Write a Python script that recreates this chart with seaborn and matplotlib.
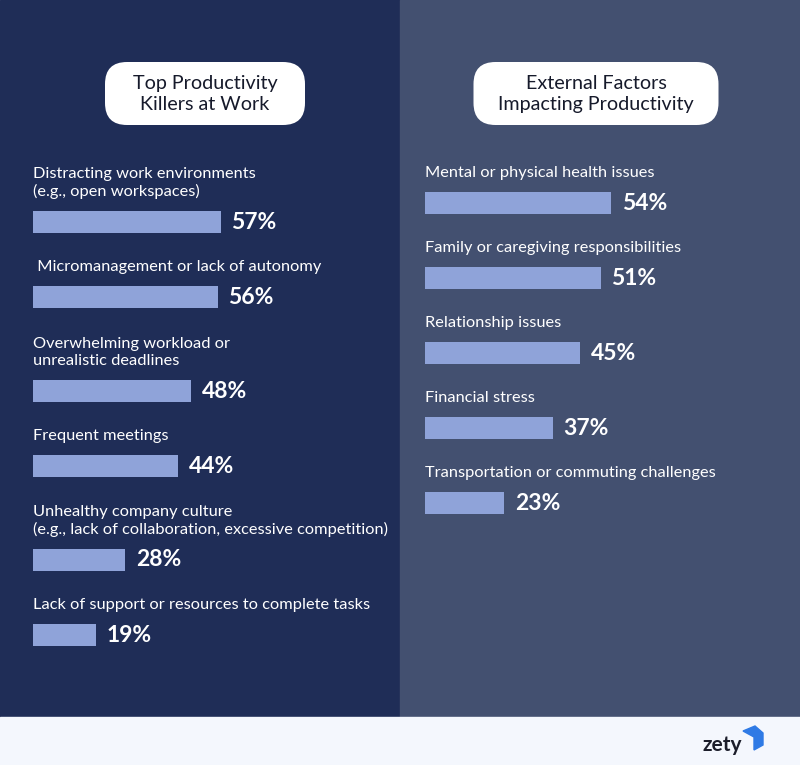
import matplotlib
matplotlib.use("Agg")
import matplotlib.pyplot as plt
import seaborn as sns
import pandas as pd
from matplotlib.patches import FancyBboxPatch, Rectangle, Polygon

# data
left_title = "Top Productivity\nKillers at Work"
left_labels = [
    "Distracting work environments\n(e.g., open workspaces)",
    " Micromanagement or lack of autonomy",
    "Overwhelming workload or\nunrealistic deadlines",
    "Frequent meetings",
    "Unhealthy company culture\n(e.g., lack of collaboration, excessive competition)",
    "Lack of support or resources to complete tasks",
]
left_values = [57, 56, 48, 44, 28, 19]

right_title = "External Factors\nImpacting Productivity"
right_labels = [
    "Mental or physical health issues",
    "Family or caregiving responsibilities",
    "Relationship issues",
    "Financial stress",
    "Transportation or commuting challenges",
]
right_values = [54, 51, 45, 37, 23]

W, H = 800, 765
LEFT_BG = "#1f2d57"
RIGHT_BG = "#435070"
BAR = "#8fa3d9"
FOOT = "#f4f7fd"
FONT = ["Lato", "DejaVu Sans"]

sns.set_style("white")
plt.rcParams["font.family"] = FONT

fig = plt.figure(figsize=(W / 100, H / 100), dpi=100)

# background layer in pixel coordinates
bg = fig.add_axes([0, 0, 1, 1])
bg.set_xlim(0, W)
bg.set_ylim(H, 0)
bg.axis("off")
bg.add_patch(Rectangle((0, 0), 400, 717, color=LEFT_BG))
bg.add_patch(Rectangle((400, 0), 400, 717, color=RIGHT_BG))
bg.add_patch(Rectangle((0, 717), 800, 48, color=FOOT))

for cx, w, title in [(205, 200, left_title), (596, 245, right_title)]:
    bg.add_patch(FancyBboxPatch((cx - w / 2, 62), w, 63,
                                boxstyle="round,pad=0,rounding_size=22",
                                fc="white", ec="none"))
    bg.text(cx, 94, title, ha="center", va="center", fontsize=14.2,
            color="#161a2b", linespacing=1.35)

# logo
bg.text(722, 745, "zety", ha="center", va="center", fontsize=15,
        fontweight="bold", color="#1b1d2a")
bg.add_patch(Polygon([[743, 731], [755, 726], [763, 733], [763, 745], [754, 750], [754, 737]],
                     closed=True, color="#2f7ae5"))


def bar_positions(labels):
    # each row: label lines (19 px each) then the bar
    pos = []
    top = 171
    for lab in labels:
        n = lab.count("\n") + 1
        c = top + 19 * (n - 1) + 32
        pos.append(c)
        top = c + 43
    return pos


def panel(x0, px_per_pct, labels, values):
    # axes covering a panel: x in percent, y in pixels
    ax = fig.add_axes([x0 / W, 0, 400 / W, 1])
    ax.set_xlim(-25 / px_per_pct, 375 / px_per_pct)
    ax.set_ylim(H, 0)
    ys = bar_positions(labels)
    df = pd.DataFrame({"value": values, "y": ys})
    step = min(b - a for a, b in zip(ys[:-1], ys[1:]))
    sns.barplot(data=df, x="value", y="y", orient="h", native_scale=True,
                width=22 / step, color=BAR, saturation=1, ax=ax, linewidth=0)
    for lab, v, y in zip(labels, values, ys):
        ax.text(0, y - 23, lab, ha="left", va="bottom", fontsize=11.8,
                color="white", linespacing=1.25)
        ax.annotate(f"{v}%", (v, y), xytext=(7.5, 0), textcoords="offset points",
                    ha="left", va="center", fontsize=16.5, fontweight="bold",
                    color="white")
    ax.axis("off")
    ax.patch.set_alpha(0)


panel(33 - 25, 3.3, left_labels, left_values)
panel(425 - 25, 3.45, right_labels, right_values)

fig.savefig("out.png", dpi=100)
